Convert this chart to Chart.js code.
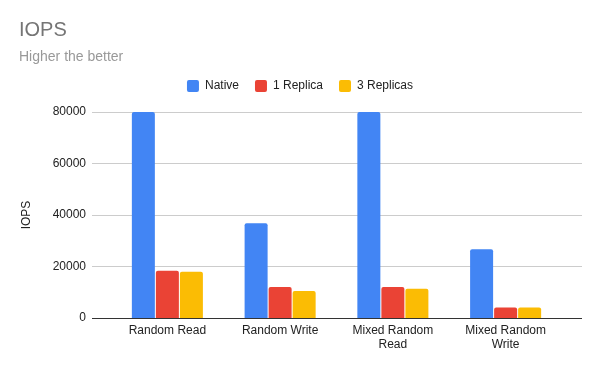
<!DOCTYPE html>
<html><head><meta charset="utf-8">
<script src="https://cdn.jsdelivr.net/npm/chart.js@4/dist/chart.umd.min.js"></script>
<style>html,body{margin:0;padding:0;background:#fff}#wrap{width:600px;height:371px;position:relative}</style>
</head><body><div id="wrap"><canvas id="c"></canvas></div>
<script>
const categories = ["Random Read", "Random Write", ["Mixed Random", "Read"], ["Mixed Random", "Write"]];
const seriesNames = ["Native", "1 Replica", "3 Replicas"];
const nativeValues = [80000, 36800, 80000, 26700];
const replica1Values = [18300, 12000, 12000, 4000];
const replica3Values = [17900, 10500, 11300, 4000];
const yTickValues = [0, 20000, 40000, 60000, 80000];
const seriesColors = ["#4285F4", "#EA4335", "#FBBC04"];

const FONT = 'Arial, "Liberation Sans", sans-serif';

const extGrid = {
  id: 'extGrid',
  beforeLayout(chart) {
    const lg = chart.legend;
    if (lg && !lg._patched) {
      const fit = lg.fit;
      lg.fit = function () { fit.call(this); this.height += 10; };
      lg._patched = true;
    }
  },
  beforeDatasetsDraw(chart) {
    const { ctx, chartArea, scales: { y } } = chart;
    const left = chartArea.left - 19, right = chartArea.right + 20;
    ctx.save();
    ctx.lineWidth = 1;
    ctx.strokeStyle = '#cccccc';
    y.ticks.forEach(t => {
      if (t.value === 0) return;
      const py = Math.round(y.getPixelForValue(t.value)) + 0.5;
      ctx.beginPath(); ctx.moveTo(left, py); ctx.lineTo(right, py); ctx.stroke();
    });
    ctx.restore();
  },
  afterDatasetsDraw(chart) {
    const { ctx, chartArea, scales: { y } } = chart;
    const left = chartArea.left - 19, right = chartArea.right + 20;
    const py = Math.round(y.getPixelForValue(0)) + 0.5;
    ctx.save();
    ctx.lineWidth = 1;
    ctx.strokeStyle = '#333333';
    ctx.beginPath(); ctx.moveTo(left, py); ctx.lineTo(right, py); ctx.stroke();
    ctx.restore();
  }
};

const allValues = [nativeValues, replica1Values, replica3Values];
const datasets = seriesNames.map((name, i) => ({
  label: name,
  data: allValues[i],
  backgroundColor: seriesColors[i],
  borderWidth: 0,
  borderRadius: { topLeft: 2, topRight: 2, bottomLeft: 0, bottomRight: 0 },
  borderSkipped: 'start',
  categoryPercentage: 0.639,
  barPercentage: 0.958
}));

new Chart(document.getElementById('c'), {
  type: 'bar',
  data: { labels: categories, datasets },
  plugins: [extGrid],
  options: {
    responsive: true,
    maintainAspectRatio: false,
    animation: false,
    layout: { padding: { left: 19, right: 19, top: 0, bottom: 13 } },
    plugins: {
      tooltip: { enabled: false },
      title: {
        display: true, text: 'IOPS', align: 'start', color: '#757575',
        font: { family: FONT, size: 20, weight: 'normal', lineHeight: 1.2 },
        padding: { top: 18, bottom: 6 }
      },
      subtitle: {
        display: true, text: 'Higher the better', align: 'start', color: '#999999',
        font: { family: FONT, size: 14, weight: 'normal', lineHeight: 1.0 },
        padding: { top: 2, bottom: 0 }
      },
      legend: {
        display: true, position: 'top', align: 'center',
        labels: {
          color: '#222222', font: { family: FONT, size: 12 },
          boxWidth: 12, boxHeight: 12, padding: 16,
          useBorderRadius: true, borderRadius: 2
        }
      }
    },
    scales: {
      x: {
        grid: { display: false, drawTicks: false },
        border: { display: false },
        ticks: { color: '#222222', font: { family: FONT, size: 12, lineHeight: 1.17 }, padding: 6, maxRotation: 0, autoSkip: false }
      },
      y: {
        min: 0, max: 80000,
        afterBuildTicks(scale) { scale.ticks = yTickValues.map(v => ({ value: v })); },
        afterFit(scale) { scale.width = 92; },
        grid: { display: false, drawTicks: false },
        border: { display: false },
        ticks: { color: '#222222', font: { family: FONT, size: 12 }, padding: 25, callback: v => String(v) },
        title: { display: true, text: 'IOPS', color: '#222222', font: { family: FONT, size: 12 }, padding: { top: 0, bottom: 0 } }
      },
      y2: {
        position: 'right', type: 'linear', display: true,
        afterFit(scale) { scale.width = 19; },
        grid: { display: false, drawTicks: false },
        border: { display: false },
        ticks: { display: false }
      }
    }
  }
});
</script>
</body></html>
